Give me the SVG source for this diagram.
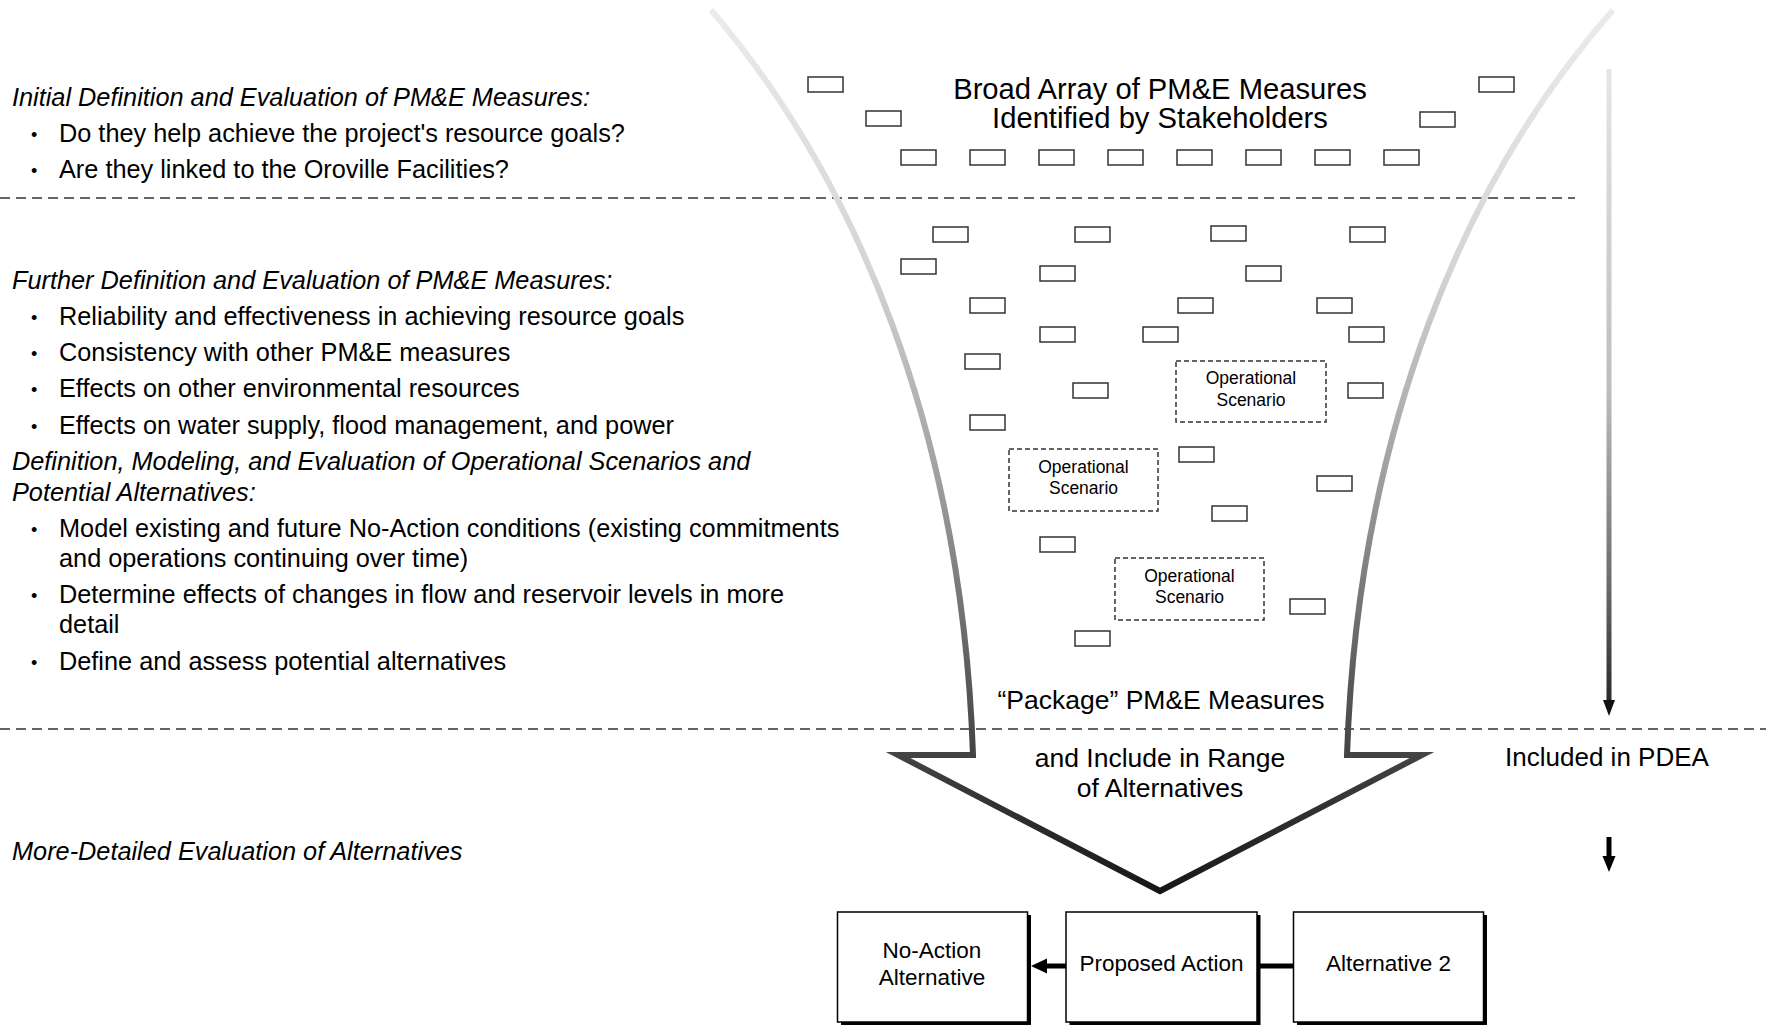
<svg xmlns="http://www.w3.org/2000/svg" width="1775" height="1030" viewBox="0 0 1775 1030">
<style>
  text { font-family: "Liberation Sans", Arial, sans-serif; fill: #000; }
  .lt { font-size: 25.3px; }
  .it { font-style: italic; }
  .bul { font-size: 18px; }
  .hd { font-size: 29.2px; text-anchor: middle; }
  .pk { font-size: 26.5px; text-anchor: middle; }
  .os { font-size: 17.5px; text-anchor: middle; }
  .bx { font-size: 22.5px; text-anchor: middle; }
  .sr { fill: #fff; stroke: #333; stroke-width: 1.5; }
  .osb { fill: #fff; stroke: #333; stroke-width: 1.5; stroke-dasharray: 5 3; }
  .dl { stroke: #333; stroke-width: 1.5; stroke-dasharray: 10 6; fill: none; }
  .box { fill: #fff; stroke: #000; stroke-width: 1.5; }
  .shadow { fill: #000; }
</style>
<defs>
  <linearGradient id="fg" gradientUnits="userSpaceOnUse" x1="0" y1="0" x2="0" y2="900">
    <stop offset="0" stop-color="#ececec"/>
    <stop offset="0.3" stop-color="#d4d4d4"/>
    <stop offset="0.55" stop-color="#9a9a9a"/>
    <stop offset="0.75" stop-color="#5c5c5c"/>
    <stop offset="0.85" stop-color="#404040"/>
    <stop offset="1" stop-color="#141414"/>
  </linearGradient>
  <linearGradient id="ag" gradientUnits="userSpaceOnUse" x1="0" y1="69" x2="0" y2="715">
    <stop offset="0" stop-color="#e6e6e6"/>
    <stop offset="0.5" stop-color="#bdbdbd"/>
    <stop offset="0.8" stop-color="#6a6a6a"/>
    <stop offset="1" stop-color="#222"/>
  </linearGradient>
</defs>
<rect width="1775" height="1030" fill="#fff"/>

<!-- left texts -->
<g id="left-text">
  <text class="lt it" x="12" y="106">Initial Definition and Evaluation of PM&amp;E Measures:</text>
  <text class="bul" x="31" y="141">•</text><text class="lt" x="59" y="142">Do they help achieve the project's resource goals?</text>
  <text class="bul" x="31" y="177">•</text><text class="lt" x="59" y="178">Are they linked to the Oroville Facilities?</text>

  <text class="lt it" x="12" y="289">Further Definition and Evaluation of PM&amp;E Measures:</text>
  <text class="bul" x="31" y="324">•</text><text class="lt" x="59" y="325">Reliability and effectiveness in achieving resource goals</text>
  <text class="bul" x="31" y="360">•</text><text class="lt" x="59" y="361">Consistency with other PM&amp;E measures</text>
  <text class="bul" x="31" y="396">•</text><text class="lt" x="59" y="397">Effects on other environmental resources</text>
  <text class="bul" x="31" y="433">•</text><text class="lt" x="59" y="434">Effects on water supply, flood management, and power</text>
  <text class="lt it" x="12" y="470">Definition, Modeling, and Evaluation of Operational Scenarios and</text>
  <text class="lt it" x="12" y="501">Potential Alternatives:</text>
  <text class="bul" x="31" y="536">•</text><text class="lt" x="59" y="537">Model existing and future No-Action conditions (existing commitments</text>
  <text class="lt" x="59" y="567">and operations continuing over time)</text>
  <text class="bul" x="31" y="602">•</text><text class="lt" x="59" y="603">Determine effects of changes in flow and reservoir levels in more</text>
  <text class="lt" x="59" y="633">detail</text>
  <text class="bul" x="31" y="669">•</text><text class="lt" x="59" y="670">Define and assess potential alternatives</text>

  <text class="lt it" x="12" y="860">More-Detailed Evaluation of Alternatives</text>
</g>

<!-- dashed separators -->
<g id="separators">
  <line class="dl" x1="0" y1="198" x2="1575" y2="198"/>
  <line class="dl" x1="0" y1="729" x2="1766" y2="729"/>
</g>

<!-- funnel -->
<g id="funnel">
  <path d="M711,10 C855,178 962,430 973,755 L898,755 L1160,891 L1422,755 L1347,755 C1358,430 1465,178 1613,10" fill="none" stroke="url(#fg)" stroke-width="6" stroke-linejoin="miter" stroke-miterlimit="10"/>
  <text class="hd" x="1160" y="99">Broad Array of PM&amp;E Measures</text>
  <text class="hd" x="1160" y="128">Identified by Stakeholders</text>
  <text class="pk" x="1161" y="709">“Package” PM&amp;E Measures</text>
  <text class="pk" x="1160" y="767">and Include in Range</text>
  <text class="pk" x="1160" y="797">of Alternatives</text>
</g>

<!-- measures -->
<g id="measures">
  <rect class="sr" x="808" y="77" width="35" height="15"/>
  <rect class="sr" x="866" y="111" width="35" height="15"/>
  <rect class="sr" x="1479" y="77" width="35" height="15"/>
  <rect class="sr" x="1420" y="112" width="35" height="15"/>
  <rect class="sr" x="901" y="150" width="35" height="15"/>
  <rect class="sr" x="970" y="150" width="35" height="15"/>
  <rect class="sr" x="1039" y="150" width="35" height="15"/>
  <rect class="sr" x="1108" y="150" width="35" height="15"/>
  <rect class="sr" x="1177" y="150" width="35" height="15"/>
  <rect class="sr" x="1246" y="150" width="35" height="15"/>
  <rect class="sr" x="1315" y="150" width="35" height="15"/>
  <rect class="sr" x="1384" y="150" width="35" height="15"/>

  <rect class="sr" x="933" y="227" width="35" height="15"/>
  <rect class="sr" x="1075" y="227" width="35" height="15"/>
  <rect class="sr" x="1211" y="226" width="35" height="15"/>
  <rect class="sr" x="1350" y="227" width="35" height="15"/>
  <rect class="sr" x="901" y="259" width="35" height="15"/>
  <rect class="sr" x="1040" y="266" width="35" height="15"/>
  <rect class="sr" x="1246" y="266" width="35" height="15"/>
  <rect class="sr" x="970" y="298" width="35" height="15"/>
  <rect class="sr" x="1178" y="298" width="35" height="15"/>
  <rect class="sr" x="1317" y="298" width="35" height="15"/>
  <rect class="sr" x="1040" y="327" width="35" height="15"/>
  <rect class="sr" x="1143" y="327" width="35" height="15"/>
  <rect class="sr" x="1349" y="327" width="35" height="15"/>
  <rect class="sr" x="965" y="354" width="35" height="15"/>
  <rect class="sr" x="1073" y="383" width="35" height="15"/>
  <rect class="sr" x="1348" y="383" width="35" height="15"/>
  <rect class="sr" x="970" y="415" width="35" height="15"/>
  <rect class="sr" x="1179" y="447" width="35" height="15"/>
  <rect class="sr" x="1317" y="476" width="35" height="15"/>
  <rect class="sr" x="1212" y="506" width="35" height="15"/>
  <rect class="sr" x="1040" y="537" width="35" height="15"/>
  <rect class="sr" x="1290" y="599" width="35" height="15"/>
  <rect class="sr" x="1075" y="631" width="35" height="15"/>
</g>

<g id="scenario-1">
  <rect class="osb" x="1176" y="361" width="150" height="61"/>
  <text class="os" x="1251" y="384">Operational</text>
  <text class="os" x="1251" y="406">Scenario</text>
</g>
<g id="scenario-2">
  <rect class="osb" x="1009" y="449" width="149" height="62"/>
  <text class="os" x="1083.5" y="473">Operational</text>
  <text class="os" x="1083.5" y="494">Scenario</text>
</g>
<g id="scenario-3">
  <rect class="osb" x="1115" y="558" width="149" height="62"/>
  <text class="os" x="1189.5" y="582">Operational</text>
  <text class="os" x="1189.5" y="603">Scenario</text>
</g>

<!-- right side timeline -->
<g id="timeline">
  <rect x="1606.5" y="69" width="5" height="633" fill="url(#ag)"/>
  <polygon points="1603,700 1615,700 1609,716" fill="#111"/>
  <text class="pk" x="1607" y="766" style="font-size:26px">Included in PDEA</text>
  <rect x="1606.5" y="837" width="5" height="21" fill="#000"/>
  <polygon points="1602.5,856 1615.5,856 1609,872" fill="#000"/>
</g>

<!-- alternatives -->
<g id="no-action">
  <rect class="shadow" x="841" y="915" width="190" height="110"/>
  <rect class="box" x="837.5" y="912" width="190" height="110"/>
  <text class="bx" x="932" y="958">No-Action</text>
  <text class="bx" x="932" y="985">Alternative</text>
</g>
<g id="proposed-action">
  <rect class="shadow" x="1069.5" y="915" width="191" height="110"/>
  <rect class="box" x="1066" y="912" width="191" height="110"/>
  <text class="bx" x="1161.5" y="971">Proposed Action</text>
</g>
<g id="alternative-2">
  <rect class="shadow" x="1297" y="915" width="190" height="110"/>
  <rect class="box" x="1293.5" y="912" width="190" height="110"/>
  <text class="bx" x="1388.5" y="971">Alternative 2</text>
</g>

<g id="connectors">
  <line x1="1066" y1="966" x2="1045" y2="966" stroke="#000" stroke-width="5"/>
  <polygon points="1031,966 1047,958.5 1047,973.5" fill="#000"/>
  <line x1="1258" y1="966" x2="1293" y2="966" stroke="#000" stroke-width="5"/>
</g>
</svg>
